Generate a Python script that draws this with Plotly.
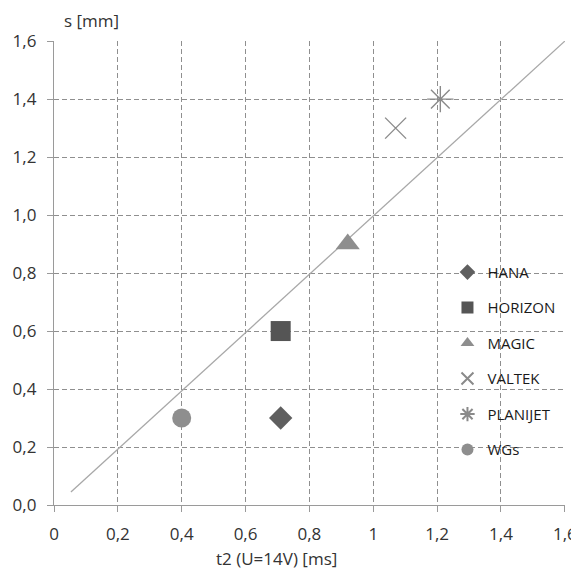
import plotly.graph_objects as go

series_names = ["HANA", "HORIZON", "MAGIC", "VALTEK", "PLANIJET", "WGs"]
t2_values = [0.71, 0.71, 0.92, 1.07, 1.21, 0.40]
s_values = [0.30, 0.60, 0.90, 1.30, 1.40, 0.30]
symbols = ["diamond", "square", "triangle-up", "x-thin-open", "asterisk-open", "circle"]
colors = ["#5f5f5f", "#555555", "#8e8e8e", "#8a8a8a", "#8a8a8a", "#8e8e8e"]
sizes = [18, 20, 21, 21, 22, 19]

trend_x = [0.053, 1.6]
trend_y = [0.045, 1.6]

x_ticks = [0, 0.2, 0.4, 0.6, 0.8, 1.0, 1.2, 1.4, 1.6]
x_labels = ["0", "0,2", "0,4", "0,6", "0,8", "1", "1,2", "1,4", "1,6"]
y_ticks = [0.0, 0.2, 0.4, 0.6, 0.8, 1.0, 1.2, 1.4, 1.6]
y_labels = ["0,0", "0,2", "0,4", "0,6", "0,8", "1,0", "1,2", "1,4", "1,6"]

fig = go.Figure()

fig.add_trace(go.Scatter(x=trend_x, y=trend_y, mode="lines",
                         line=dict(color="#a8a8a8", width=1.3),
                         showlegend=False, hoverinfo="skip"))

for i, name in enumerate(series_names):
    fig.add_trace(go.Scatter(
        x=[t2_values[i]], y=[s_values[i]], mode="markers", name=name,
        legendgroup=name,
        marker=dict(symbol=symbols[i], size=sizes[i], color=colors[i],
                    line=dict(color=colors[i], width=1.4 if "open" in symbols[i] else 0)),
        cliponaxis=False))

grid = dict(showgrid=True, gridcolor="#8f8f8f", griddash="5px,3px", gridwidth=1)
axis_common = dict(ticks="outside", ticklen=6, tickcolor="#9a9a9a",
                   showline=True, linecolor="#9a9a9a", linewidth=1.4,
                   zeroline=False, tickfont=dict(size=17, color="#333333"),
                   automargin=False, ticklabelstandoff=7, **grid)

fig.update_layout(
    width=571, height=561,
    margin=dict(l=46, r=14, t=33, b=64),
    paper_bgcolor="white", plot_bgcolor="white",
    font=dict(family="Open Sans, Noto Sans, sans-serif", color="#333333", size=17),
    xaxis=dict(range=[0, 1.6005], tickvals=x_ticks, ticktext=x_labels, **axis_common),
    yaxis=dict(range=[0, 1.6005], tickvals=y_ticks, ticktext=y_labels, **axis_common),
    legend=dict(x=0.77, y=0.537, xanchor="left", yanchor="top",
                itemsizing="constant", tracegroupgap=13,
                font=dict(size=15, color="#1a1a1a"), bgcolor="rgba(255,255,255,0)"),
    annotations=[
        dict(text="s [mm]", xref="paper", yref="paper",
             x=0.016, y=1.0, xanchor="left", yanchor="middle", yshift=21,
             showarrow=False, font=dict(size=17)),
        dict(text="t2 (U=14V) [ms]", xref="paper", yref="paper",
             x=0.436, y=0.0, xanchor="center", yanchor="middle", yshift=-53,
             showarrow=False, font=dict(size=17)),
    ],
)

fig.write_html("out.html")
